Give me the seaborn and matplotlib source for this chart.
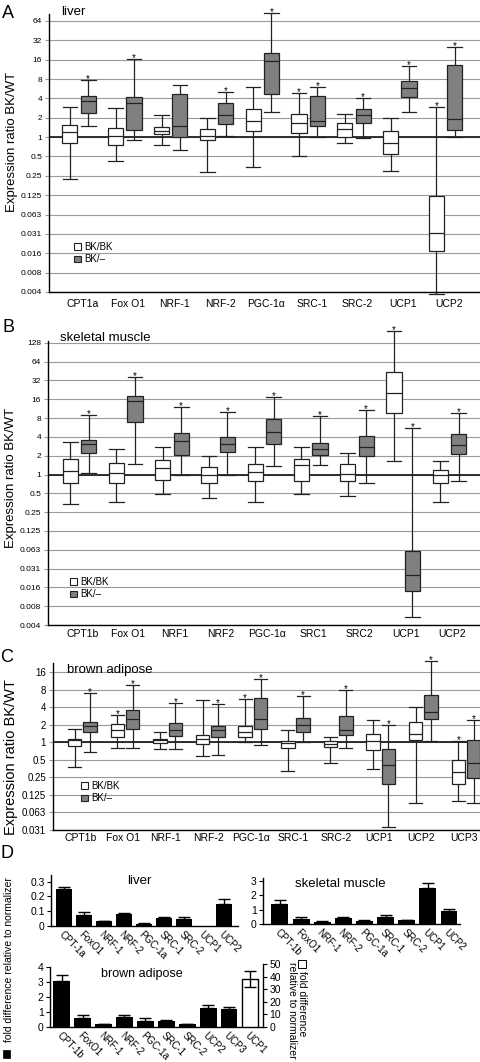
import numpy as np
import pandas as pd
import matplotlib
matplotlib.use("Agg")
import matplotlib.pyplot as plt
import seaborn as sns
from matplotlib.patches import Patch, Rectangle
from matplotlib.ticker import NullLocator

plt.rcParams["font.family"] = ["Liberation Sans", "DejaVu Sans"]

# ---------------- data ----------------
# box stats per gene: (low whisker, Q1, median, Q3, high whisker)
A_genes = ["CPT1a", "Fox O1", "NRF-1", "NRF-2", "PGC-1\u03b1", "SRC-1", "SRC-2", "UCP1", "UCP2"]
A_white = [(0.22, 0.82, 1.21, 1.54, 2.9), (0.43, 0.75, 1.05, 1.38, 2.8), (0.76, 1.11, 1.26, 1.43, 2.2),
           (0.29, 0.91, 1.04, 1.35, 1.95), (0.34, 1.26, 1.75, 2.76, 6.0), (0.5, 1.15, 1.63, 2.3, 4.85),
           (0.8, 1.02, 1.36, 1.67, 2.25), (0.3, 0.55, 0.8, 1.26, 1.95), (0.0037, 0.0167, 0.032, 0.123, 2.97)]
A_grey = [(1.5, 2.36, 3.7, 4.4, 7.7), (0.91, 1.27, 3.4, 4.2, 16.4), (0.64, 1.02, 1.47, 4.7, 6.45),
          (1.05, 1.58, 2.23, 3.4, 5.0), (2.45, 4.67, 15.0, 20.0, 85.0), (1.0, 1.48, 1.8, 4.35, 6.0),
          (0.98, 1.65, 2.23, 2.73, 4.0), (2.48, 4.25, 5.86, 7.5, 12.8), (1.0, 1.29, 1.9, 13.2, 25.5)]
A_star_white = [0, 0, 0, 0, 0, 1, 0, 0, 1]
A_star_grey = [1, 1, 0, 1, 1, 1, 1, 1, 1]

B_genes = ["CPT1b", "Fox O1", "NRF1", "NRF2", "PGC-1\u03b1", "SRC1", "SRC2", "UCP1", "UCP2"]
B_white = [(0.34, 0.74, 1.12, 1.75, 3.3), (0.36, 0.74, 1.06, 1.52, 2.6), (0.49, 0.82, 1.27, 1.7, 2.75),
           (0.42, 0.74, 0.97, 1.3, 2.0), (0.37, 0.79, 1.1, 1.47, 2.75), (0.49, 0.78, 1.41, 1.77, 2.75),
           (0.46, 0.8, 1.02, 1.47, 2.2), (1.66, 9.6, 20.4, 44.0, 200.0), (0.36, 0.73, 1.0, 1.2, 1.67)]
B_grey = [(1.04, 2.18, 3.1, 3.54, 8.9), (1.48, 7.0, 14.8, 17.9, 36.0), (1.0, 2.03, 3.46, 4.63, 12.0),
          (0.98, 2.3, 3.1, 4.0, 10.0), (1.37, 3.13, 4.8, 7.7, 17.6), (1.4, 2.05, 2.55, 3.25, 8.5),
          (0.73, 2.0, 2.78, 4.2, 10.6), (0.0053, 0.0136, 0.025, 0.06, 5.6), (0.8, 2.15, 3.0, 4.47, 9.6)]
B_star_white = [0, 0, 0, 0, 0, 0, 0, 1, 0]
B_star_grey = [1, 1, 1, 1, 1, 1, 1, 1, 1]

C_genes = ["CPT1b", "Fox O1", "NRF-1", "NRF-2", "PGC-1\u03b1", "SRC-1", "SRC-2", "UCP1", "UCP2", "UCP3"]
C_white = [(0.385, 0.85, 1.1, 1.16, 1.7), (0.8, 1.24, 1.61, 2.05, 2.9), (0.78, 0.97, 1.08, 1.16, 1.49),
           (0.58, 0.95, 1.14, 1.32, 5.3), (1.0, 1.24, 1.49, 1.94, 5.5), (0.32, 0.81, 0.99, 1.05, 1.61),
           (0.44, 0.83, 0.94, 1.04, 1.24), (0.35, 0.73, 1.07, 1.37, 2.43), (0.092, 1.08, 1.41, 2.22, 4.08),
           (0.1, 0.19, 0.31, 0.49, 1.04)]
C_grey = [(0.68, 1.51, 1.89, 2.27, 7.1), (0.81, 1.72, 2.56, 3.6, 9.6), (0.77, 1.27, 1.65, 2.13, 4.8),
          (0.6, 1.25, 1.65, 1.94, 4.6), (0.91, 1.7, 2.56, 5.75, 12.1), (1.0, 1.51, 2.0, 2.6, 6.2),
          (0.81, 1.32, 1.65, 2.81, 7.9), (0.0355, 0.19, 0.41, 0.77, 1.97), (1.05, 2.53, 3.38, 6.5, 25.0),
          (0.092, 0.24, 0.45, 1.08, 2.46)]
C_star_white = [0, 1, 0, 0, 1, 0, 0, 0, 0, 1]
C_star_grey = [1, 1, 1, 1, 1, 1, 1, 1, 1, 1]

D_liver_genes = ["CPT-1a", "FoxO1", "NRF-1", "NRF-2", "PGC-1a", "SRC-1", "SRC-2", "UCP1", "UCP2"]
D_liver_mean = [0.25, 0.073, 0.034, 0.083, 0.015, 0.056, 0.05, 0.0, 0.151]
D_liver_err = [0.016, 0.02, 0.003, 0.006, 0.003, 0.003, 0.012, 0.0, 0.029]

D_muscle_genes = ["CPT-1b", "FoxO1", "NRF-1", "NRF-2", "PGC-1a", "SRC-1", "SRC-2", "UCP1", "UCP2"]
D_muscle_mean = [1.42, 0.34, 0.16, 0.42, 0.23, 0.46, 0.25, 2.52, 0.92]
D_muscle_err = [0.25, 0.14, 0.02, 0.05, 0.07, 0.14, 0.02, 0.36, 0.1]

D_bat_genes = ["CPT-1b", "FoxO1", "NRF-1", "NRF-2", "PGC-1a", "SRC-1", "SRC-2", "UCP2", "UCP3"]
D_bat_mean = [3.05, 0.6, 0.17, 0.66, 0.42, 0.42, 0.18, 1.3, 1.18]
D_bat_err = [0.45, 0.18, 0.02, 0.12, 0.16, 0.05, 0.02, 0.2, 0.17]
D_bat_ucp1_gene = ["UCP1"]
D_bat_ucp1_mean = [38.0]
D_bat_ucp1_err = [6.5]

GENOTYPES = ["BK/BK", "BK/\u2013"]
TICK_TEXT = {-8: "0.004", -7: "0.008", -6: "0.016", -5: "0.031", -4: "0.063", -3: "0.125",
             -2: "0.25", -1: "0.5", 0: "1", 1: "2", 2: "4", 3: "8", 4: "16", 5: "32", 6: "64", 7: "128"}

# ---------------- figure ----------------
W, H = 480, 1062
fig = plt.figure(figsize=(W / 100, H / 100), dpi=100)


def rect(l, t, r, b):
    return [l / W, 1 - b / H, (r - l) / W, (b - t) / H]


GRID = "#9a9a9a"
EDGE = "#222222"


def box_panel(r, genes, white, grey, sw, sg, emin, emax, etop, xlim, width, gap, capw,
              xlabel_pad, xlabel_size, ytick_size, label_shift):
    ax = fig.add_axes(r)
    rows = []
    for g, w, k in zip(genes, white, grey):
        rows += [(g, GENOTYPES[0], v) for v in w]
        rows += [(g, GENOTYPES[1], v) for v in k]
    df = pd.DataFrame(rows, columns=["gene", "genotype", "ratio"])
    sns.boxplot(data=df, x="gene", y="ratio", hue="genotype", order=genes, hue_order=GENOTYPES,
                palette={GENOTYPES[0]: "white", GENOTYPES[1]: "#808080"}, saturation=1,
                log_scale=2, whis=(0, 100), width=width, gap=gap, linewidth=0.9,
                linecolor=EDGE, fliersize=0, capwidths=capw, legend=False, ax=ax)
    for art in list(ax.patches) + list(ax.lines):
        art.set_clip_on(False)
    ax.axhline(1, color=EDGE, lw=1.3, zorder=1.5)
    ax.set_ylim(2.0 ** emin, 2.0 ** etop)
    ticks = [2.0 ** e for e in range(emin, emax + 1)]
    ax.set_yticks(ticks)
    ax.set_yticklabels([TICK_TEXT[e] for e in range(emin, emax + 1)])
    ax.yaxis.set_minor_locator(NullLocator())
    ax.grid(axis="y", color=GRID, lw=0.8)
    ax.set_axisbelow(True)
    ax.set_xlim(*xlim)
    ax.set_xticks(np.arange(len(genes)) + label_shift)
    ax.set_xticklabels(genes)
    ax.tick_params(axis="y", length=3, width=0.8, color=GRID, labelsize=ytick_size, pad=2)
    ax.tick_params(axis="x", length=0, labelsize=xlabel_size, pad=xlabel_pad)
    ax.set_xlabel("")
    ax.set_ylabel("")
    for s in ["top", "right"]:
        ax.spines[s].set_visible(False)
    for s in ["left", "bottom"]:
        ax.spines[s].set_linewidth(1.0)
        ax.spines[s].set_color("black")
    off = width / 4
    for i in range(len(genes)):
        for flag, stats, dx in ((sw[i], white[i], -off), (sg[i], grey[i], off)):
            if flag:
                ax.annotate("*", (i + dx, stats[4]), xytext=(0, -1.5), textcoords="offset points",
                            ha="center", va="baseline", fontsize=7, annotation_clip=False)
    return ax


def add_legend(ax, x, y):
    handles = [Patch(facecolor="white", edgecolor=EDGE, lw=0.8),
               Patch(facecolor="#808080", edgecolor=EDGE, lw=0.8)]
    ax.legend(handles, GENOTYPES, loc="upper left", bbox_to_anchor=(x / W, 1 - y / H),
              bbox_transform=fig.transFigure, frameon=False, fontsize=7, handlelength=0.7,
              handleheight=0.7, handletextpad=0.35, labelspacing=0.25, borderpad=0, borderaxespad=0)


# Panel A
axA = box_panel(rect(49, 14, 480, 292), A_genes, A_white, A_grey, A_star_white, A_star_grey,
                -8, 6, 6.36, (-0.655, 8.75), 0.8, 0.17, 0.32, 5, 7.5, 6, 0.08)
add_legend(axA, 74, 242)
fig.text(2 / W, 1 - 14 / H, "A", fontsize=13, va="center", ha="left")
fig.text(61 / W, 1 - 15 / H, "liver", fontsize=9.5, va="baseline", ha="left")
fig.text(12 / W, 1 - 142 / H, "Expression ratio BK/WT", rotation=90, fontsize=9.5, ha="center", va="center")

# Panel B
axB = box_panel(rect(48, 341, 480, 625), B_genes, B_white, B_grey, B_star_white, B_star_grey,
                -8, 7, 7.1, (-0.68, 8.66), 0.8, 0.17, 0.32, 3, 7.5, 6, 0.06)
add_legend(axB, 70, 577)
fig.text(2 / W, 1 - 328 / H, "B", fontsize=13, va="center", ha="left")
fig.text(60 / W, 1 - 341 / H, "skeletal muscle", fontsize=9.5, va="baseline", ha="left")
fig.text(11 / W, 1 - 478 / H, "Expression ratio BK/WT", rotation=90, fontsize=9.5, ha="center", va="center")

# Panel C
axC = box_panel(rect(53, 663, 480, 830), C_genes, C_white, C_grey, C_star_white, C_star_grey,
                -5, 4, 4.53, (-0.69, 9.33), 0.72, 0.12, 0.3, 2, 7.5, 7, -0.05)
add_legend(axC, 81, 781)
fig.text(0 / W, 1 - 657 / H, "C", fontsize=13, va="center", ha="left")
fig.text(67 / W, 1 - 673 / H, "brown adipose", fontsize=9.5, va="baseline", ha="left")
fig.text(11 / W, 1 - 757 / H, "Expression ratio BK/WT", rotation=90, fontsize=10.5, ha="center", va="center")


# Panel D
def bar_panel(r, genes, means, errs, order, ylim, yticks, yticklabels, xlim):
    ax = fig.add_axes(r)
    sns.barplot(x=genes, y=means, order=order, color="black", saturation=1, width=0.8,
                errorbar=None, ax=ax)
    pos = np.array([order.index(g) for g in genes])
    m = np.asarray(means)
    e = np.asarray(errs)
    keep = e > 0
    ax.errorbar(pos[keep], m[keep], yerr=[np.zeros(keep.sum()), e[keep]], fmt="none",
                ecolor="black", elinewidth=1.0, capsize=4.5, capthick=1.0)
    ax.set_ylim(*ylim)
    ax.set_xlim(*xlim)
    ax.set_yticks(yticks)
    ax.set_yticklabels(yticklabels)
    ax.set_xticks(np.arange(len(order)))
    ax.set_xticklabels(order, rotation=-45, ha="left", va="top", rotation_mode="anchor")
    ax.tick_params(axis="y", length=3, width=0.8, labelsize=7.5, pad=1.5)
    ax.tick_params(axis="x", length=0, labelsize=7, pad=2.5)
    ax.set_xlabel("")
    ax.set_ylabel("")
    for s in ["top", "right"]:
        ax.spines[s].set_visible(False)
    ax.spines["left"].set_linewidth(1.0)
    ax.spines["bottom"].set_linewidth(1.0)
    return ax


axDL = bar_panel(rect(51, 875, 238, 926), D_liver_genes, D_liver_mean, D_liver_err, D_liver_genes,
                 (0, 0.345), [0, 0.1, 0.2, 0.3], ["0", "0.1", "0.2", "0.3"], (-0.65, 8.7))
axDL.text(0.47, 1.0, "liver", transform=axDL.transAxes, fontsize=9.5, ha="center", va="top")

axDM = bar_panel(rect(263, 878, 460, 924), D_muscle_genes, D_muscle_mean, D_muscle_err, D_muscle_genes,
                 (0, 3.2), [0, 1, 2, 3], ["0", "1", "2", "3"], (-0.8, 8.52))
axDM.text(0.39, 1.0, "skeletal muscle", transform=axDM.transAxes, fontsize=9.5, ha="center", va="top")

D_bat_order = D_bat_genes + D_bat_ucp1_gene
axDB = bar_panel(rect(50, 964, 263, 1027), D_bat_genes, D_bat_mean, D_bat_err, D_bat_order,
                 (0, 4.2), [0, 1, 2, 3, 4], ["0", "1", "2", "3", "4"], (-0.56, 9.62))
axDB.spines["left"].set_bounds(0, 4)
axDB.text(0.43, 0.93, "brown adipose", transform=axDB.transAxes, fontsize=9, ha="center", va="top")
ax2 = axDB.twinx()
sns.barplot(x=D_bat_ucp1_gene, y=D_bat_ucp1_mean, order=D_bat_order, color="white", saturation=1,
            edgecolor="black", linewidth=1.0, width=0.8, errorbar=None, ax=ax2)
ax2.errorbar([D_bat_order.index("UCP1")], D_bat_ucp1_mean, yerr=D_bat_ucp1_err, fmt="none",
             ecolor="black", elinewidth=1.0, capsize=4.5, capthick=1.0)
ax2.set_ylim(0, 50)
ax2.set_yticks([0, 10, 20, 30, 40, 50])
ax2.set_ylabel("")
ax2.tick_params(axis="y", length=3, width=0.8, labelsize=7.5, pad=1.5)
for s in ["top", "left", "bottom"]:
    ax2.spines[s].set_visible(False)
ax2.spines["right"].set_linewidth(1.0)
axDB.set_xlim(-0.56, 9.62)

fig.text(0 / W, 1 - 854 / H, "D", fontsize=13, va="center", ha="left")
# legend squares for the two scales
fig.add_artist(Rectangle((3 / W, 1 - 1058 / H), 7 / W, 8 / H, transform=fig.transFigure,
                         facecolor="black", edgecolor="black", lw=0.5))
fig.text(9 / W, 1 - 960 / H, "fold difference relative to normalizer", rotation=90,
         fontsize=7.5, ha="center", va="center")
fig.add_artist(Rectangle((298 / W, 1 - 968 / H), 8 / W, 8 / H, transform=fig.transFigure,
                         facecolor="white", edgecolor="black", lw=0.7))
fig.text(302 / W, 1 - 971 / H, "fold difference", rotation=270, fontsize=7.5, ha="center", va="top")
fig.text(292 / W, 1 - 962 / H, "relative to normalizer", rotation=270, fontsize=7.5, ha="center", va="top")

fig.savefig("out.png", dpi=100)
